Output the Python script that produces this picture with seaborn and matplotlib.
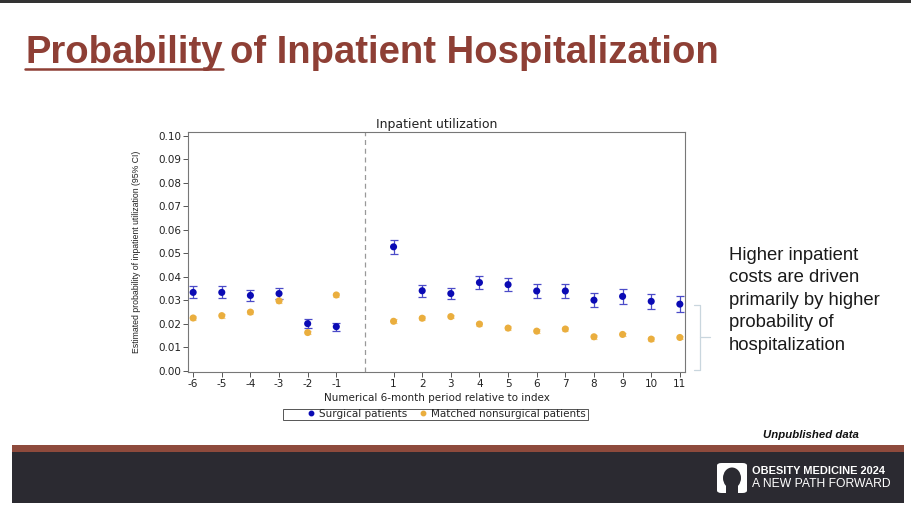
import numpy as np
import pandas as pd
import matplotlib
matplotlib.use("Agg")
import matplotlib.pyplot as plt
from matplotlib.lines import Line2D
from matplotlib.patches import Rectangle, FancyBboxPatch, Ellipse
import seaborn as sns

# ── data ─────────────────────────────────────────────────────────────────────
periods      = [-6, -5, -4, -3, -2, -1, 1, 2, 3, 4, 5, 6, 7, 8, 9, 10, 11]
surg_est     = [0.0333, 0.0333, 0.0320, 0.0328, 0.0200, 0.0187, 0.0527, 0.0340, 0.0328,
                0.0375, 0.0366, 0.0339, 0.0339, 0.0300, 0.0316, 0.0295, 0.0283]
surg_lo      = [0.0310, 0.0310, 0.0295, 0.0303, 0.0181, 0.0168, 0.0496, 0.0315, 0.0303,
                0.0349, 0.0338, 0.0311, 0.0310, 0.0272, 0.0285, 0.0264, 0.0251]
surg_hi      = [0.0359, 0.0362, 0.0343, 0.0352, 0.0219, 0.0204, 0.0557, 0.0365, 0.0352,
                0.0402, 0.0395, 0.0367, 0.0368, 0.0330, 0.0347, 0.0327, 0.0318]
nonsurg_est  = [0.0224, 0.0234, 0.0249, 0.0297, 0.0162, 0.0322, 0.0210, 0.0223, 0.0230,
                0.0198, 0.0181, 0.0168, 0.0177, 0.0144, 0.0154, 0.0134, 0.0141]
nonsurg_ci   = [0.0008] * 17
groups       = ["Surgical patients", "Matched nonsurgical patients"]
y_ticks      = [0.00, 0.01, 0.02, 0.03, 0.04, 0.05, 0.06, 0.07, 0.08, 0.09, 0.10]
side_note    = "Higher inpatient\ncosts are driven\nprimarily by higher\nprobability of\nhospitalization"

BLUE      = "#0A0AB4"
BLUE_CI   = "#4B4BC8"
ORANGE    = "#EAAE3E"
ORANGE_CI = "#F2CE8A"
BROWN     = "#8E3F35"
DARK      = "#2B2A31"

sns.set_style("white")
plt.rcParams['font.family'] = ['DejaVu Sans']

W, H = 911, 515
fig = plt.figure(figsize=(W / 100, H / 100), dpi=100)

# pixel -> figure fraction helpers
def fx(x):
    return x / W

def fy(y):
    return 1 - y / H

# ── chart ────────────────────────────────────────────────────────────────────
ax = fig.add_axes([fx(188), fy(372), fx(685) - fx(188), fy(132) - fy(372)])

df = pd.DataFrame({
    "period": periods * 2,
    "est": surg_est + nonsurg_est,
    "group": [groups[0]] * len(periods) + [groups[1]] * len(periods),
})

ax.errorbar(periods, surg_est,
            yerr=[np.array(surg_est) - np.array(surg_lo), np.array(surg_hi) - np.array(surg_est)],
            fmt="none", ecolor=BLUE_CI, elinewidth=0.9, capsize=2.8, capthick=0.9, zorder=2)
ax.errorbar(periods, nonsurg_est, yerr=nonsurg_ci,
            fmt="none", ecolor=ORANGE_CI, elinewidth=0.8, capsize=2, capthick=0.8, zorder=2)
sns.scatterplot(data=df, x="period", y="est", hue="group",
                palette={groups[0]: BLUE, groups[1]: ORANGE},
                s=26, linewidth=0, legend=False, ax=ax, zorder=3)

ax.axvline(0, color="#999999", linestyle=(0, (4, 3)), linewidth=0.9)

ax.set_xlim(-6.18, 11.18)
ax.set_ylim(-0.0006, 0.1016)
ax.set_xticks(periods)
ax.set_xticklabels([str(p) for p in periods])
ax.set_yticks(y_ticks)
ax.set_yticklabels([f"{v:.2f}" for v in y_ticks])
ax.tick_params(axis="both", which="both", direction="out", length=3.5, width=0.7,
               colors="#555555", labelcolor="#222222", labelsize=7.5, pad=1.5,
               left=True, bottom=True)
for s in ax.spines.values():
    s.set_color("#777777")
    s.set_linewidth(0.8)

ax.set_title("Inpatient utilization", fontsize=9, color="#222222", pad=3)
ax.set_xlabel("Numerical 6-month period relative to index", fontsize=7.5,
              color="#222222", labelpad=3)
ax.set_ylabel("Estimated probability of inpatient utilization (95% CI)", fontsize=6.3,
              color="#222222", family=["Liberation Sans", "DejaVu Sans"], labelpad=12)

# legend: frameless entries inside a hand-placed box like the original
handles = [Line2D([], [], linestyle="none", marker="o", markersize=3.2,
                  markerfacecolor=c, markeredgecolor=c) for c in (BLUE, ORANGE)]
fig.legend(handles, groups, loc="center right", bbox_to_anchor=(fx(588), fy(414)),
           ncol=2, fontsize=7.5, frameon=False, borderpad=0, handletextpad=0.3,
           columnspacing=1.0, handlelength=1.0, borderaxespad=0.2)
fig.add_artist(Rectangle((fx(283), fy(419.5)), fx(588) - fx(283), fy(409) - fy(419.5),
                         transform=fig.transFigure, facecolor="none",
                         edgecolor="#555555", linewidth=0.7))

# ── slide decoration ─────────────────────────────────────────────────────────
fig.add_artist(Rectangle((0, fy(2.5)), 1, fy(0) - fy(2.5), transform=fig.transFigure,
                         facecolor="#333333", edgecolor="none"))

title_font = ["Liberation Sans", "DejaVu Sans"]
t1 = fig.text(fx(25), fy(63), "Probability", fontsize=27.5, fontweight="bold",
              color=BROWN, family=title_font, va="baseline", ha="left")
fig.canvas.draw()
bb = t1.get_window_extent(renderer=fig.canvas.get_renderer())
fig.text(bb.x1 / W + fx(8), fy(63), "of Inpatient Hospitalization", fontsize=27.5,
         fontweight="bold", color=BROWN, family=title_font, va="baseline", ha="left")
fig.add_artist(Line2D([fx(25), bb.x1 / W], [fy(69), fy(69)], color=BROWN, linewidth=1.8))

# bracket beside the chart
fig.add_artist(Line2D([fx(694), fx(700), fx(700), fx(694)], [fy(305), fy(305), fy(370), fy(370)],
                      color="#C9D6DE", linewidth=0.9))
fig.add_artist(Line2D([fx(700), fx(710)], [fy(337), fy(337)], color="#C9D6DE", linewidth=0.9))

fig.text(fx(729), fy(247), side_note, fontsize=13.3, color="#1A1A1A",
         family=["Liberation Sans", "DejaVu Sans"], va="top", ha="left", linespacing=1.42)

fig.text(fx(859), fy(435), "Unpublished data", fontsize=8.2, fontweight="bold",
         fontstyle="italic", color="#111111", family=title_font, ha="right", va="center")

fig.add_artist(Rectangle((fx(12), fy(452)), fx(904) - fx(12), fy(445) - fy(452),
                         transform=fig.transFigure, facecolor="#8E4A3C", edgecolor="none"))
fig.add_artist(Rectangle((fx(12), fy(503)), fx(904) - fx(12), fy(452) - fy(503),
                         transform=fig.transFigure, facecolor=DARK, edgecolor="none"))

# logo
fig.add_artist(FancyBboxPatch((fx(717), fy(493)), fx(747) - fx(717), fy(463) - fy(493),
                              boxstyle="round,pad=0,rounding_size=0.005",
                              transform=fig.transFigure, facecolor="white", edgecolor="none"))
fig.add_artist(Ellipse((fx(732), fy(478)), fx(18), fy(0) - fy(21),
                       transform=fig.transFigure, facecolor=DARK, edgecolor="none"))
fig.add_artist(Rectangle((fx(726), fy(493)), fx(12), fy(484) - fy(493),
                         transform=fig.transFigure, facecolor=DARK, edgecolor="none"))
fig.text(fx(752), fy(471), "OBESITY MEDICINE 2024", fontsize=7.9, fontweight="bold",
         color="white", family=title_font, ha="left", va="center")
fig.text(fx(752), fy(484), "A NEW PATH FORWARD", fontsize=8.7,
         color="white", family=title_font, ha="left", va="center")

fig.savefig("out.png", dpi=100)
